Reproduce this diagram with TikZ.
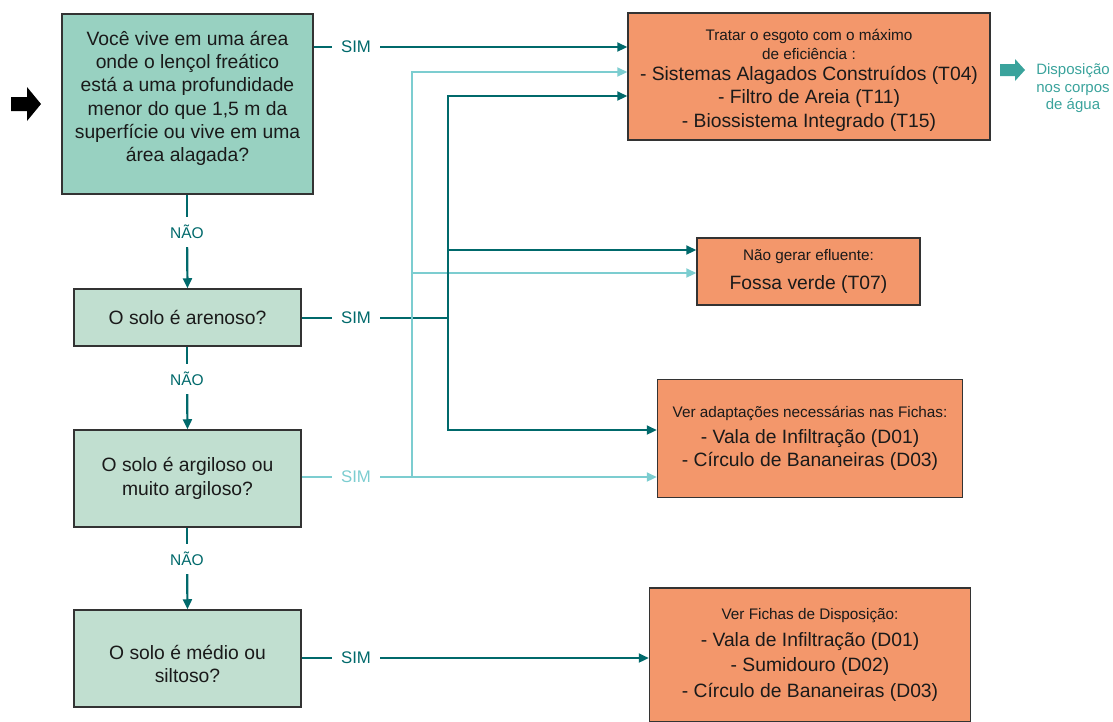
\documentclass[tikz,border=0pt]{standalone}
\usepackage{fontspec}
\setmainfont{Liberation Sans}
\usetikzlibrary{arrows.meta,calc}
\definecolor{dk}{HTML}{00696B}
\definecolor{lt}{HTML}{7CCDD0}
\definecolor{qa}{HTML}{98D1C1}
\definecolor{qb}{HTML}{C1DFD0}
\definecolor{org}{HTML}{F3976B}
\definecolor{bdr}{HTML}{333333}
\definecolor{txt}{HTML}{1A1A1A}
\definecolor{disp}{HTML}{3AA39C}
\begin{document}
\begin{tikzpicture}[x=1pt,y=-1pt,
  qbox/.style={draw=bdr,line width=1.5pt,fill=qb,text=txt,align=center,inner sep=0pt,
    font=\fontsize{19.3}{23.3}\selectfont},
  obox/.style={draw=bdr,line width=1.5pt,fill=org,text=txt,align=center,inner sep=0pt,
    font=\fontsize{19.3}{23.5}\selectfont},
  tbox/.style={text=txt,align=center,inner sep=0pt,font=\fontsize{19.3}{23.3}\selectfont},
  lab/.style={font=\fontsize{16.8}{18}\selectfont,inner xsep=9pt,inner ysep=8pt},
  nlab/.style={font=\fontsize{15.5}{18}\selectfont,inner xsep=9pt,inner ysep=8pt},
  dkl/.style={draw=dk,line width=2.2pt},
  ltl/.style={draw=lt,line width=2.2pt},
  tip/.style={-{Triangle[length=10pt,width=9pt]}}
]
\useasboundingbox (0,0) rectangle (1113,721);
\newcommand{\sm}{\fontsize{15.3}{19}\selectfont}

% left black arrow
\fill[black] (11,97) -- (27,97) -- (27,87) -- (41,104) -- (27,121) -- (27,111) -- (11,111) -- cycle;

% question boxes
\node[qbox,fill=qa,minimum width=251pt,minimum height=180pt] (q1) at (187.5,104) {};
\node[tbox] (q1t) at (187.5,98.5) {Você vive em uma área\\onde o lençol freático\\está a uma profundidade\\menor do que 1,5 m da\\superfície ou vive em uma\\área alagada?};
\node[qbox,minimum width=227pt,minimum height=57pt] (q2) at (187.5,317.5) {O solo é arenoso?};
\node[qbox,minimum width=227pt,minimum height=97pt] (q3) at (187.5,478.5) {O solo é argiloso ou\\muito argiloso?};
\node[qbox,minimum width=227pt,minimum height=97pt] (q4) at (187.5,658.5) {};
\node[tbox] (q4t) at (187.5,664) {O solo é médio ou\\siltoso?};

% result boxes
\node[obox,minimum width=362pt,minimum height=127pt] (r1) at (809,76.5) {};
\node[tbox,font=\fontsize{19.3}{23.5}\selectfont] (r1t) at (809,80)
 {\sm Tratar o esgoto com o máximo\\[-4.5pt]\sm de eficiência :\\[-2.5pt]- Sistemas Alagados Construídos (T04)\\- Filtro de Areia (T11)\\- Biossistema Integrado (T15)};
\node[obox,minimum width=223pt,minimum height=67pt] (r2) at (808.5,271.5)
 {\sm Não gerar efluente:\\[5pt]Fossa verde (T07)};
\node[obox,minimum width=305pt,minimum height=118pt] (r3) at (810,438.5)
 {\sm Ver adaptações necessárias nas Fichas:\\[2pt]- Vala de Infiltração (D01)\\- Círculo de Bananeiras (D03)};
\node[obox,minimum width=321pt,minimum height=134pt,font=\fontsize{19.3}{25.5}\selectfont] (r4) at (810,655)
 {\sm Ver Fichas de Disposição:\\[1pt]- Vala de Infiltração (D01)\\- Sumidouro (D02)\\- Círculo de Bananeiras (D03)};

% disposicao
\fill[disp] (1000,64) -- (1015,64) -- (1015,59) -- (1025,70) -- (1015,81) -- (1015,76) -- (1000,76) -- cycle;
\node[text=disp,align=center,font=\fontsize{15}{17.5}\selectfont] (dsp) at (1073,88.5) {Disposição\\nos corpos\\de água};

% labels
\node[lab,text=dk] (s1) at (356,47) {SIM};
\node[lab,text=dk] (s2) at (356,318) {SIM};
\node[lab,text=lt] (s3) at (356,477) {SIM};
\node[lab,text=dk] (s4) at (356,658) {SIM};
\node[nlab,text=dk] (n1) at (187,232) {NÃO};
\node[nlab,text=dk] (n2) at (187,379) {NÃO};
\node[nlab,text=dk] (n3) at (187,559) {NÃO};

\coordinate (jl) at (412,477);
\coordinate (jd) at (448,318);

% NAO connectors
\draw[dkl] (q1.south -| n1) -- (n1);
\draw[dkl,tip] (n1) -- (q2.north);
\draw[dkl] (q2.south -| n2) -- (n2);
\draw[dkl,tip] (n2) -- (q3.north);
\draw[dkl] (q3.south -| n3) -- (n3);
\draw[dkl,tip] (n3) -- (q4.north);

% SIM connectors
\draw[dkl] (q1.east |- s1) -- (s1);
\draw[dkl,tip] (s1) -- (r1.west |- s1);
\draw[dkl] (q2.east |- s2) -- (s2);
\draw[dkl] (s2) -- (jd);
\draw[dkl] (q4.east |- s4) -- (s4);
\draw[dkl,tip] (s4) -- (r4.west |- s4);

% light paths
\draw[ltl] (q3.east |- s3) -- (s3);
\draw[ltl] (s3) -- (jl);
\draw[ltl,tip] (jl) -- (r3.west |- jl);
\draw[ltl,tip] (jl) |- ([yshift=4.5pt]r1.west);
\draw[ltl,tip] (jl) |- ([yshift=-1.5pt]r2.west);

% dark paths
\draw[dkl,tip] (jd) |- ([yshift=-19.5pt]r1.west);
\draw[dkl,tip] (jd) |- ([yshift=21.5pt]r2.west);
\draw[dkl,tip] (jd) |- ([yshift=8.5pt]r3.west);
\end{tikzpicture}
\end{document}
